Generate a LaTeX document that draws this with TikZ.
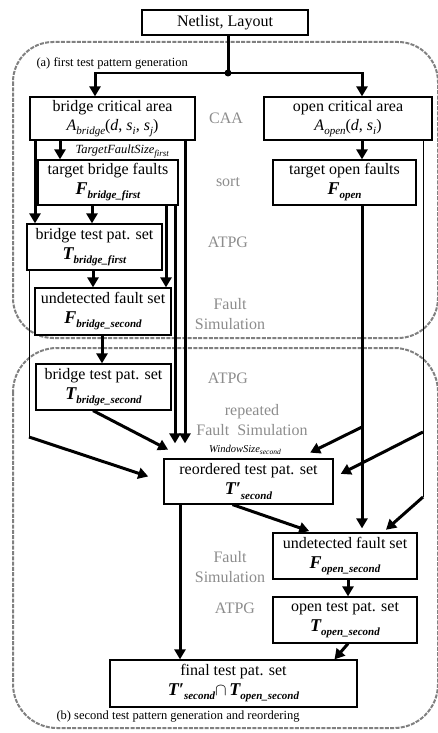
\documentclass[tikz,border=0pt]{standalone}
\usepackage{fontspec}
\setmainfont{Liberation Serif}
\usetikzlibrary{arrows.meta,calc}
\definecolor{lblgray}{HTML}{8C8C8C}
\definecolor{dgray}{HTML}{808080}
\newcommand{\sbi}[1]{\raisebox{-0.55ex}{\fontsize{11}{11}\selectfont\bfseries\itshape #1}}
\newcommand{\sit}[1]{\raisebox{-0.55ex}{\fontsize{11}{11}\selectfont\itshape #1}}
\newcommand{\BI}[1]{{\fontsize{18}{18}\selectfont\bfseries\itshape #1}}
\newcommand{\prm}{\symbol{"2032}}
\begin{document}
\begin{tikzpicture}[x=1pt,y=-1pt,
  box/.style={draw, line width=1.2pt, fill=white, align=center, inner sep=0pt,
    font=\fontsize{16}{20}\selectfont},
  lbl/.style={text=lblgray, align=center, font=\fontsize{16}{20}\selectfont},
  thk/.style={line width=3pt},
  thn/.style={line width=1pt},
  arr/.style={-{Triangle[length=10pt,width=11pt]}},
  dbox/.style={draw=dgray, line width=2pt, dash pattern=on 4pt off 1.3pt}]
\useasboundingbox (0,0) rectangle (438,733);

% dashed group frames
\draw[dbox, rounded corners=40pt] (13,42) rectangle (438,338);
\draw[dbox, rounded corners=44pt] (13,348) rectangle (438,728);
\node[anchor=west, font=\fontsize{12.5}{14}\selectfont] (la) at (33,63) {(a) first test pattern generation};
\node[anchor=west, font=\fontsize{12.5}{14}\selectfont] (lb) at (53,717) {(b) second test pattern generation and reordering};

% boxes
\node[box, minimum width=166pt, minimum height=25pt] (net) at (225,22.5) {Netlist, Layout};
\node[box, minimum width=165pt, minimum height=43pt] (bca) at (112.5,118.5)
  {bridge critical area\\[-1pt]\textit{A}\sit{bridge}(\textit{d}, \textit{s}\sit{i}, \textit{s}\sit{j})};
\node[box, minimum width=168pt, minimum height=43pt] (oca) at (348,118.5)
  {open critical area\\[-1pt]\textit{A}\sit{open}(\textit{d}, \textit{s}\sit{i})};
\node[box, minimum width=140pt, minimum height=45pt] (tbf) at (108,182.5)
  {target bridge faults\\\BI{F}\sbi{bridge\_first}};
\node[box, minimum width=143pt, minimum height=45pt] (tof) at (344.5,182.5)
  {target open faults\\\BI{F}\sbi{open}};
\node[box, minimum width=135pt, minimum height=46pt] (bt1) at (94.5,247)
  {bridge test pat. set\\\BI{T}\sbi{bridge\_first}};
\node[box, minimum width=136pt, minimum height=47pt] (ufb) at (103,311.5)
  {undetected fault set\\\BI{F}\sbi{bridge\_second}};
\node[box, minimum width=135pt, minimum height=46pt] (bt2) at (103.5,387)
  {bridge test pat. set\\\BI{T}\sbi{bridge\_second}};
\node[box, minimum width=169pt, minimum height=45pt] (reo) at (248.5,481.5)
  {reordered test pat. set\\\BI{T\prm}\sbi{second}};
\node[box, minimum width=144pt, minimum height=46pt] (ufo) at (345,556)
  {undetected fault set\\\BI{F}\sbi{open\_second}};
\node[box, minimum width=144pt, minimum height=46pt] (otp) at (345,620)
  {open test pat. set\\\BI{T}\sbi{open\_second}};
\node[box, minimum width=247pt, minimum height=47pt] (fin) at (233.5,683.5)
  {final test pat. set\\\BI{T\prm}\sbi{second}$\cap$\,\BI{T}\sbi{open\_second}};

% grey step labels
\node[lbl] (caa) at (226,118) {CAA};
\node[lbl] (sort) at (228,182) {sort};
\node[lbl] (atpg1) at (228,242) {ATPG};
\node[lbl] (fs1) at (230,314) {Fault\\Simulation};
\node[lbl] (atpg2) at (228,378) {ATPG};
\node[lbl] (rfs) at (252,420) {repeated\\Fault~~Simulation};
\node[lbl] (fs2) at (230,567) {Fault\\Simulation};
\node[lbl] (atpg3) at (235,608) {ATPG};
\node[font=\fontsize{10.5}{11}\selectfont\itshape] (ws) at (245,450) {WindowSize\raisebox{-0.5ex}{\fontsize{7.5}{7.5}\selectfont second}};
\node[anchor=west, font=\fontsize{12.5}{14}\selectfont\itshape] (tfs) at (72,152)
  {TargetFaultSize\raisebox{-0.5ex}{\fontsize{9}{9}\selectfont first}};

% x positions of vertical connectors
\coordinate (c29) at (29,0);
\coordinate (c35) at (35,0);
\coordinate (c60) at (60,0);
\coordinate (c92) at (92,0);
\coordinate (c93) at (93,0);
\coordinate (c102) at (102,0);
\coordinate (c166) at (166,0);
\coordinate (c175) at (175,0);
\coordinate (c180) at (180,0);
\coordinate (c185) at (185,0);
\coordinate (c348) at (348,0);
\coordinate (c362) at (362,0);
\coordinate (c423) at (423,0);

% top split
\coordinate (dot) at (228,73);
\coordinate (dl) at (95,73);
\coordinate (dr) at (362,73);
\draw[thk] (net.south -| dot) -- (dot);
\draw[line width=1.5pt] (dl) -- (dr);
\draw[thk,arr] ([yshift=0.75pt]dl) -- (dl |- bca.north);
\draw[thk,arr] ([yshift=0.75pt]dr) -- (dr |- oca.north);
\fill (dot) circle (3.5pt);

% bridge path
\draw[thk,arr] (bca.south -| c60) -- (tbf.north -| c60);
\draw[thk,arr] (bca.south -| c35) -- (bt1.north -| c35);
\draw[thk,arr] (tbf.south -| c92) -- (bt1.north -| c92);
\draw[thk,arr] (bt1.south -| c93) -- (ufb.north -| c93);
\draw[thk,arr] (tbf.south -| c166) -- (ufb.north -| c166);
\draw[thk,arr] (ufb.south -| c102) -- (bt2.north -| c102);
\draw[thk,arr,shorten >=15pt] (tbf.south -| c175) -- (reo.north -| c175);
\draw[thk,arr,shorten >=15pt] (bca.south -| c185) -- (reo.north -| c185);
\coordinate (lb1) at (29,437);
\draw[thn] (bt1.south -| c29) -- (lb1);
\draw[thk,arr,shorten >=16pt] (lb1) -- (reo.west);
\draw[thk,arr,shorten >=19pt] ([xshift=-10.5pt]bt2.south) -- ([xshift=-63.5pt]reo.north);

% open path
\draw[thk,arr] (oca.south -| c362) -- (tof.north -| c362);
\draw[thk,arr,shorten >=4pt] (tof.south -| c362) -- (ufo.north -| c362);
\coordinate (ob) at (362,427);
\draw[thk,arr,shorten >=13pt] (ob) -- ([xshift=50pt]reo.north);
\coordinate (rb1) at (423,432);
\coordinate (rb2) at (423,497);
\draw[thn] (oca.south -| c423) -- (rb2);
\draw[thk,arr,shorten >=8pt] (rb1) -- ([yshift=4pt]reo.east);
\draw[thk,arr,shorten >=4pt] (rb2) -- ([xshift=38pt]ufo.north);

% lower part
\draw[thk,arr,shorten >=4pt] ([xshift=-16pt]reo.south) -- ([xshift=-32pt]ufo.north);
\draw[thk,arr] (ufo.south -| c348) -- (otp.north -| c348);
\draw[thk,arr] ([xshift=3pt]otp.south) -- ([xshift=101pt]fin.north);
\draw[thk,arr] (reo.south -| c180) -- (fin.north -| c180);
\end{tikzpicture}
\end{document}
